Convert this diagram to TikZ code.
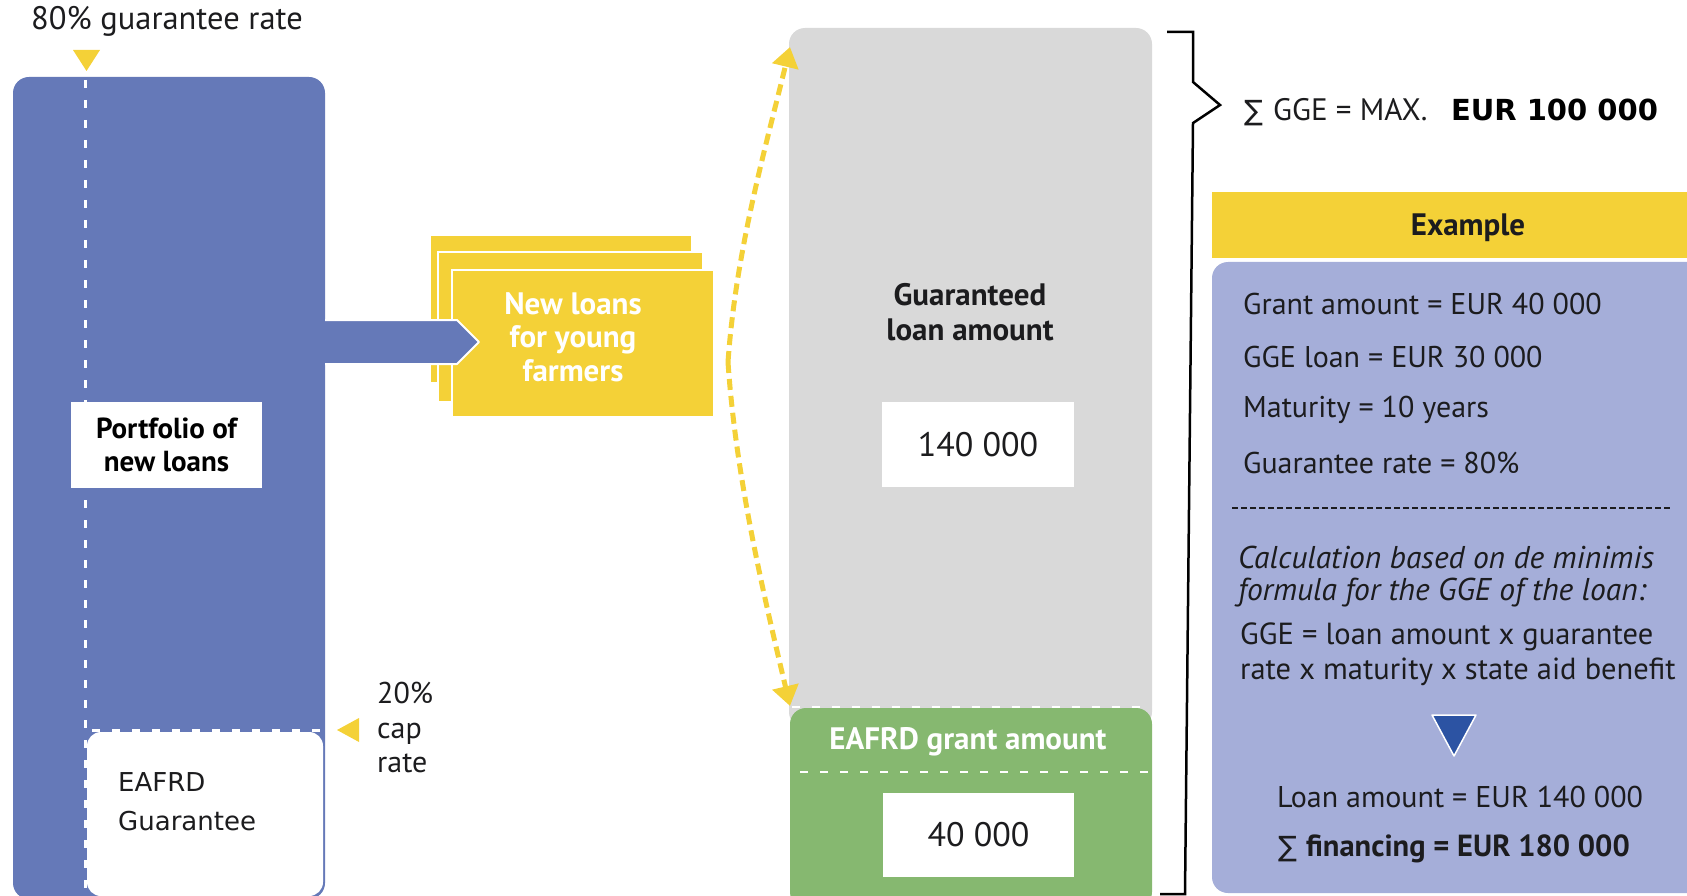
\documentclass[tikz,border=0pt]{standalone}
\usepackage{fontspec}
\setmainfont{PT Sans}
\newfontfamily\dejavu{DejaVu Sans}
\usetikzlibrary{arrows.meta,calc}

\definecolor{pblue}{RGB}{101,121,184}
\definecolor{ylw}{RGB}{244,209,55}
\definecolor{lgray}{RGB}{217,217,217}
\definecolor{grn}{RGB}{134,184,112}
\definecolor{lav}{RGB}{165,174,217}
\definecolor{dblue}{RGB}{44,83,163}
\definecolor{ink}{RGB}{28,28,30}

\tikzset{
  box/.style={inner sep=0pt, outer sep=0pt},
  txt/.style={inner sep=0pt, text=ink},
  whitedash/.style={white, line width=3pt, dash pattern=on 8pt off 12pt},
  loanbox/.style={box, fill=ylw, draw=white, line width=2.5pt},
  body/.style={txt, font=\fontsize{30}{34}\selectfont},
}

\begin{document}
\begin{tikzpicture}[x=1pt,y=-1pt]
\useasboundingbox (0,0) rectangle (1687,896);
\clip (0,0) rectangle (1687,896);

% ---------- portfolio column ----------
\node[box, fill=pblue, rounded corners=16pt, minimum width=312pt, minimum height=822pt] (port) at (169,488) {};
\node[txt, anchor=west, font=\fontsize{32.5}{34}\selectfont] (gr) at (31,21) {80\% guarantee rate};
\fill[ylw] (73,50) -- (100,50) -- (86.5,71) -- cycle;

\node[box, fill=white, rounded corners=14pt, minimum width=236pt, minimum height=164pt] (eg) at (205,814) {};
\node[txt, anchor=west, align=left, font=\dejavu\fontsize{26}{39}\selectfont] (egt) at (118,802) {EAFRD\\Guarantee};
\draw[whitedash] (85,80) -- (85,896);
\draw[whitedash] (92,730) -- (325,730);

\node[box, fill=white, minimum width=191pt, minimum height=86pt, align=center,
      font=\bfseries\fontsize{29}{33}\selectfont, text=black] (plabel) at (166.5,445) {Portfolio of\\new loans};

% cap rate marker
\fill[ylw] (337,730) -- (359,718) -- (359,742) -- cycle;
\node[txt, anchor=north west, align=left, font=\fontsize{30}{34.5}\selectfont] (cap) at (377,682) {20\%\\cap\\rate};

% ---------- new loans stack ----------
\node[loanbox, minimum width=262pt, minimum height=148pt] (back) at (561,309) {};
\node[loanbox, minimum width=265pt, minimum height=150pt] (mid) at (570.5,327) {};
\node[loanbox, minimum width=262pt, minimum height=147pt] (front) at (583,343.5) {};
\node[txt, align=center, text=white, font=\bfseries\fontsize{31}{33.5}\selectfont] (frontt) at (573,337) {New loans\\for young\\farmers};

% feed arrow from the portfolio
\coordinate (fa) at ($(port.east)+(-6,0)$);
\fill[pblue] (fa |- 0,321) -- (457,321) -- (478,342) -- (457,363) -- (fa |- 0,363) -- cycle;
\draw[white, line width=2pt, line join=round] (port.east |- 0,320) -- (457,320) -- (479,342) -- (457,364) -- (port.east |- 0,364);

% ---------- guaranteed loan / grant column ----------
\node[box, fill=lgray, rounded corners=16pt, minimum width=363pt, minimum height=700pt] (gray) at (970.5,378) {};
\node[txt, align=center, font=\bfseries\fontsize{31}{35}\selectfont] (glabel) at (970,312) {Guaranteed\\loan amount};
\node[box, fill=white, minimum width=192pt, minimum height=85pt, font=\fontsize{34}{38}\selectfont, text=ink] (v140) at (978,444.5) {140 000};

\node[box, fill=grn, rounded corners=16pt, minimum width=362pt, minimum height=200pt] (green) at (971,808) {};
\draw[whitedash, line width=2.5pt] (792,707) -- (1152,707);
\node[txt, text=white, font=\bfseries\fontsize{31}{34}\selectfont] (galabel) at (968,742) {EAFRD grant amount};
\draw[whitedash, line width=2.5pt] (800,772) -- (1152,772);
\node[box, fill=white, minimum width=191pt, minimum height=84pt, font=\fontsize{34}{38}\selectfont, text=ink] (v40) at (978.5,835) {40 000};

% double-headed range arrow along the column
\coordinate (atop) at (790,47);
\coordinate (amid) at (728,362);
\coordinate (abot) at (790,706);
\draw[ylw, line width=5pt, dash pattern=on 11pt off 6pt, -{Triangle[length=20pt,width=26pt]}]
  (amid) .. controls (736,250) and (765,150) .. (atop);
\draw[ylw, line width=5pt, dash pattern=on 11pt off 6pt, -{Triangle[length=20pt,width=26pt]}]
  (amid) .. controls (736,480) and (765,600) .. (abot);

% brace
\coordinate (b0) at (1167,32);
\coordinate (b1) at (1193,32);
\coordinate (b2) at (1193,82);
\coordinate (b3) at (1220,105);
\coordinate (b4) at (1193,123);
\coordinate (b5) at (1185,894);
\coordinate (b6) at (1160,894);
\draw[black, line width=2.5pt, line join=miter] (b0) -- (b1) -- (b2) -- (b3) -- (b4) -- (b5) -- (b6);

% ---------- summary and example ----------
\node[txt, anchor=base west, font=\fontsize{31}{34}\selectfont] (gge) at (1244,121)
  {{\dejavu\fontsize{28}{30}\selectfont ∑}\kern10pt GGE = MAX.};
\node[box, anchor=base west, fill=white, inner xsep=3pt, text=black,
      font=\dejavu\bfseries\fontsize{29}{34}\selectfont] (max) at (1448,121) {EUR 100 000};

\node[box, fill=ylw, minimum width=490pt, minimum height=66pt] (exh) at (1457,225) {};
\node[txt, font=\bfseries\fontsize{31}{34}\selectfont] (ext) at (1468,228) {Example};
\node[box, fill=lav, rounded corners=16pt, minimum width=500pt, minimum height=631pt] (exb) at (1462,577.5) {};
\fill[lav] (1230,262) rectangle (1700,300);

\node[body, anchor=west] (l1) at (1243,304) {Grant amount = EUR 40 000};
\node[body, anchor=west] (l2) at (1243,357) {GGE loan = EUR 30 000};
\node[body, anchor=west] (l3) at (1243,410) {Maturity = 10 years};
\node[body, anchor=west] (l4) at (1243,463) {Guarantee rate = 80\%};
\draw[ink, line width=1.6pt, dash pattern=on 6pt off 3pt] (1232,508) -- (1672,508);

\node[txt, anchor=north west, align=left, font=\itshape\fontsize{31.5}{32}\selectfont] (calc) at (1238,546)
  {Calculation based on de minimis\\formula for the GGE of the loan:};
\node[txt, anchor=north west, align=left, font=\fontsize{30.5}{35}\selectfont] (form) at (1240,623)
  {GGE = loan amount x guarantee\\rate x maturity x state aid benefit};

\draw[white, line width=1.5pt, fill=dblue, line join=round] (1432,715) -- (1476,715) -- (1454,756) -- cycle;

\node[body] (loan) at (1460,797) {Loan amount = EUR 140 000};
\node[body, font=\bfseries\fontsize{30.5}{34}\selectfont] (fin) at (1454,849)
  {{\dejavu\mdseries\fontsize{28}{30}\selectfont ∑}\kern9pt financing = EUR 180 000};
\end{tikzpicture}
\end{document}
